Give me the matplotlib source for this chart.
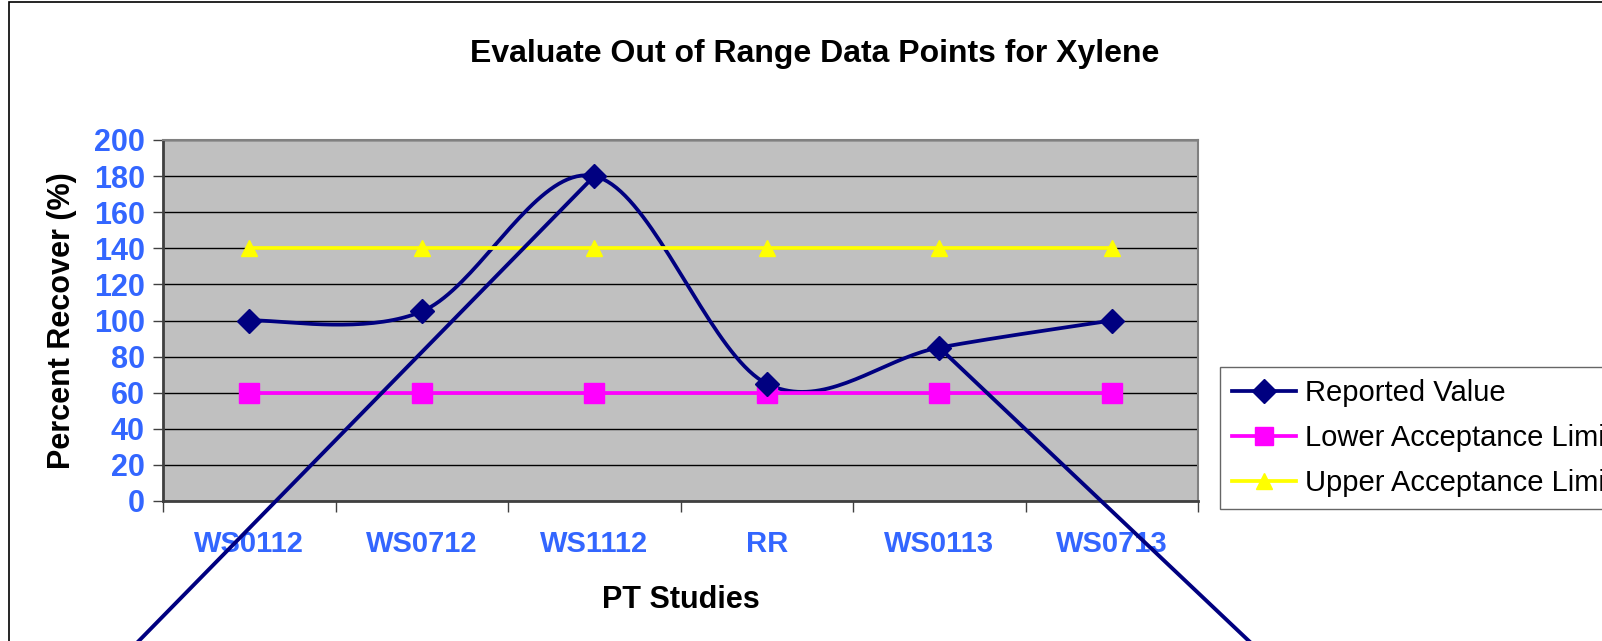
import numpy as np
import matplotlib
matplotlib.use("Agg")
import matplotlib.pyplot as plt
from matplotlib.patches import Rectangle
from matplotlib.lines import Line2D

plt.rcParams["font.family"] = ["Liberation Sans", "DejaVu Sans"]

studies = ["WS0112", "WS0712", "WS1112", "RR", "WS0113", "WS0713"]
reported = [100, 105, 180, 65, 85, 100]
lower_limit = [60, 60, 60, 60, 60, 60]
upper_limit = [140, 140, 140, 140, 140, 140]

NAVY = "#000080"
TICK_BLUE = "#3366FF"


def excel_smooth(xs, ys, n=40):
    # bezier smoothing like Excel's "smoothed line"
    pts = np.column_stack([xs, ys]).astype(float)
    out = [pts[0]]
    t = np.linspace(0, 1, n)[1:, None]
    for i in range(len(pts) - 1):
        p0 = pts[i - 1] if i > 0 else pts[i]
        p1, p2 = pts[i], pts[i + 1]
        p3 = pts[i + 2] if i + 2 < len(pts) else pts[i + 1]
        c1 = p1 + (p2 - p0) / 6
        c2 = p2 - (p3 - p1) / 6
        seg = ((1 - t) ** 3) * p1 + 3 * ((1 - t) ** 2) * t * c1 + 3 * (1 - t) * t ** 2 * c2 + t ** 3 * p2
        out.extend(seg)
    out = np.array(out)
    return out[:, 0], out[:, 1]


W, H = 1602, 641
fig = plt.figure(figsize=(W / 100, H / 100), dpi=100)
fig.patch.set_facecolor("white")

# outer chart border
fig.patches.append(Rectangle((9 / W, -0.1), 1.2, 1 - 2 / H + 0.1, transform=fig.transFigure,
                             fill=False, edgecolor="black", linewidth=1.2))

ax = fig.add_axes([163 / W, (H - 501) / H, 1035 / W, 361 / H])
ax.set_facecolor("#C0C0C0")

x = np.arange(len(studies))
sx, sy = excel_smooth(x, reported)
ax.plot(sx, sy, color=NAVY, lw=2.7, zorder=3)
ax.plot(x, reported, ls="none", marker="D", ms=12, color=NAVY, zorder=5)
ax.plot(x, lower_limit, color="#FF00FF", lw=2.7, marker="s", ms=14, zorder=4)
ax.plot(x, upper_limit, color="#FFFF00", lw=2.7, marker="^", ms=12, zorder=4)

ax.set_xlim(-0.5, len(studies) - 0.5)
ax.set_ylim(0, 200)
ax.set_yticks(range(0, 201, 20))
ax.yaxis.grid(True, color="black", lw=1)
ax.set_axisbelow(True)

ax.set_xticks(x)
ax.set_xticklabels(studies, color=TICK_BLUE, fontsize=21, fontweight="bold")
ax.set_xticks(np.arange(-0.5, len(studies)), minor=True)
ax.tick_params(axis="x", which="major", length=0, pad=21)
ax.tick_params(axis="x", which="minor", length=8, width=1, color="#404040")
ax.tick_params(axis="y", length=7, width=1, color="#404040", labelsize=22,
               labelcolor=TICK_BLUE, pad=6)
for lbl in ax.get_yticklabels():
    lbl.set_fontweight("bold")

for side in ["top", "right"]:
    ax.spines[side].set_color("#808080")
    ax.spines[side].set_linewidth(1.5)
for side in ["left", "bottom"]:
    ax.spines[side].set_color("#404040")
    ax.spines[side].set_linewidth(2)

ax.set_xlabel("PT Studies", fontsize=22, fontweight="bold", labelpad=19)
ax.set_ylabel("Percent Recover (%)", fontsize=22, fontweight="bold", labelpad=12)

fig.text(815 / W, 1 - 54 / H, "Evaluate Out of Range Data Points for Xylene",
         ha="center", va="center", fontsize=23, fontweight="bold")

# callout lines to the out-of-range points
ax.add_line(Line2D([-0.645, 2], [-78, reported[2]], color=NAVY, lw=2.8, clip_on=False, zorder=6))
ax.add_line(Line2D([4, 5.8], [reported[4], -78], color=NAVY, lw=2.8, clip_on=False, zorder=6))

handles = [
    Line2D([], [], color=NAVY, lw=2.7, marker="D", ms=12),
    Line2D([], [], color="#FF00FF", lw=2.7, marker="s", ms=13),
    Line2D([], [], color="#FFFF00", lw=2.7, marker="^", ms=12),
]
labels = ["Reported Value", "Lower Acceptance Limit", "Upper Acceptance Limit"]
leg = fig.legend(handles, labels, loc="upper left", bbox_to_anchor=(1220 / W, 1 - 367 / H),
                 fontsize=21, frameon=True, fancybox=False, edgecolor="#404040",
                 borderpad=0.42, labelspacing=0.58, handlelength=2.2, handletextpad=0.28,
                 borderaxespad=0)
leg.get_frame().set_linewidth(1)

fig.savefig("out.png", dpi=100)
